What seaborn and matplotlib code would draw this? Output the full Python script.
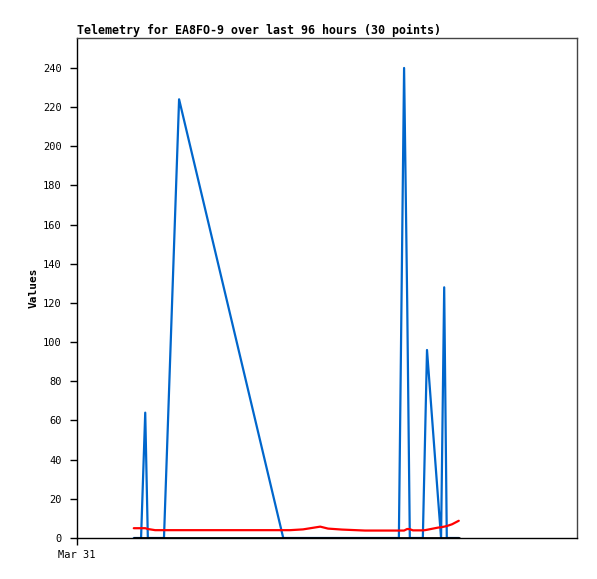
import numpy as np
import pandas as pd
import matplotlib
matplotlib.use("Agg")
import matplotlib.pyplot as plt
import seaborn as sns

# hours since Mar 31 00:00
hours = [10.9, 12.3, 13.1, 13.6, 15.0, 16.7, 19.6, 39.6, 40.9, 43.4,
         46.7, 48.2, 50.9, 55.3, 58.2, 60.1, 61.8, 62.8, 63.4, 63.9,
         64.5, 66.4, 66.8, 67.2, 69.3, 69.9, 70.5, 71.0, 72.0, 73.3]
blue_vals = [0, 0, 64, 0, 0, 0, 224, 0, 0, 0,
             0, 0, 0, 0, 0, 0, 0, 240, 120, 0,
             0, 0, 48, 96, 21, 0, 128, 0, 0, 0]
red_vals = [5.0, 5.0, 5.0, 4.6, 4.0, 4.0, 4.0, 4.0, 4.0, 4.4,
            5.8, 4.8, 4.3, 3.8, 3.8, 3.8, 3.8, 3.8, 4.6, 4.5,
            3.9, 3.9, 4.0, 4.2, 5.3, 5.5, 5.8, 6.1, 7.0, 8.8]
black_vals = [0] * 30

x_ticks = [0]
x_labels = ["Mar 31"]
y_ticks = list(range(0, 241, 20))

df = pd.DataFrame({"hours": hours, "blue": blue_vals, "red": red_vals, "black": black_vals})

sns.set_style("white")
plt.rcParams['font.family'] = ['DejaVu Sans Mono', 'DejaVu Sans']
plt.rcParams['text.color'] = 'black'
plt.rcParams['axes.labelcolor'] = 'black'

fig = plt.figure(figsize=(5.97, 5.79), dpi=100)
ax = fig.add_axes([77 / 597, 41 / 579, 500 / 597, 500 / 579])

sns.lineplot(data=df, x="hours", y="blue", color="#0066cc", lw=1.6, ax=ax)
sns.lineplot(data=df, x="hours", y="red", color="#ff0000", lw=1.6, ax=ax)
sns.lineplot(data=df, x="hours", y="black", color="#000000", lw=2, ax=ax)

ax.set_xlim(0, 96)
ax.set_ylim(0, 255.3)
ax.set_yticks(y_ticks)
ax.set_yticklabels([str(t) for t in y_ticks], fontsize=7.5)
ax.set_xticks(x_ticks)
ax.set_xticklabels(x_labels, fontsize=7.5)
ax.tick_params(axis="both", direction="out", length=5, width=1, color="black",
               labelcolor="black", pad=6, left=True, bottom=True)
ax.tick_params(axis="x", pad=4)

ax.set_xlabel("")
ax.set_ylabel("Values", fontsize=8, fontweight="bold", labelpad=3, color="black")
ax.set_title("Telemetry for EA8FO-9 over last 96 hours (30 points)",
             loc="left", fontsize=8.4, fontweight="bold", pad=3, color="black")

for side in ["left", "bottom"]:
    ax.spines[side].set_color("black")
    ax.spines[side].set_linewidth(1)
for side in ["top", "right"]:
    ax.spines[side].set_color("#444444")
    ax.spines[side].set_linewidth(1)

fig.savefig("out.png", dpi=100)
